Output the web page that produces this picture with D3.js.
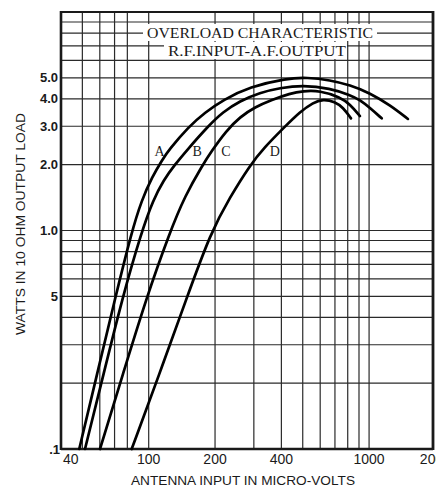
<!DOCTYPE html>
<html><head><meta charset="utf-8">
<script src="https://cdn.jsdelivr.net/npm/d3@7"></script>
<style>html,body{margin:0;padding:0;background:#fff;} svg{display:block}</style>
</head><body>
<script>
// ---- data ----
const xTickValues = [40, 100, 200, 400, 1000, 2000];
const xTickLabels = ["40", "100", "200", "400", "1000", "2000"];
const yTickValues = [0.1, 0.5, 1, 2, 3, 4, 5];
const yTickLabels = [".1", "5", "1.0", "2.0", "3.0", "4.0", "5.0"];
const xGridValues = [50, 60, 70, 80, 100, 200, 300, 400, 500, 600, 700, 800, 900, 1000];
const yGridValues = [0.2, 0.3, 0.4, 0.5, 0.6, 0.7, 0.8, 0.9, 1, 2, 3, 4, 5, 6, 7, 8, 9];
const curveNames = ["A", "B", "C", "D"];
// [antenna input µV, watts]
const curveA = [[48.4,0.1],[58.3,0.220],[70.3,0.486],[83.7,0.987],[93.0,1.38],[103.7,1.76],[115.0,2.10],[123.5,2.34],[151.9,2.99],[180.1,3.47],[217.5,3.96],[287.2,4.55],[422.8,4.97],[523,5.02],[665,4.88],[819,4.63],[1009,4.26],[1244,3.75],[1501,3.24]];
const curveB = [[51.4,0.1],[62.4,0.220],[75.7,0.486],[92.8,0.987],[104.8,1.38],[116.8,1.70],[130.8,1.99],[149.5,2.34],[185.2,2.99],[217.5,3.49],[258.5,3.91],[319.9,4.28],[393.4,4.49],[500,4.63],[665,4.48],[819,4.17],[909,3.96],[1009,3.64],[1141,3.26]];
const curveC = [[60.1,0.1],[76.4,0.220],[97.2,0.486],[124.9,0.987],[146.1,1.44],[175.4,1.99],[193.1,2.31],[224.2,2.85],[259.6,3.31],[303.6,3.67],[361.5,3.96],[437.6,4.24],[501,4.35],[599,4.37],[738,4.08],[819,3.79],[909,3.34]];
const curveD = [[83.7,0.1],[111.4,0.218],[147.6,0.481],[191.7,0.987],[233.8,1.42],[288.1,1.99],[333.5,2.39],[415.3,2.99],[485.8,3.49],[556.5,3.85],[617.8,3.99],[700.2,3.89],[761.3,3.66],[827.7,3.26]];
const curveLabelAt = [[112, 2.3], [166, 2.3], [224, 2.3], [373, 2.3]];
const titleLines = ["OVERLOAD CHARACTERISTIC", "R.F.INPUT-A.F.OUTPUT"];
const xTitle = "ANTENNA INPUT IN MICRO-VOLTS";
const yTitle = "WATTS IN 10 OHM OUTPUT LOAD";

// ---- chart ----
const W = 436, H = 487;
const x = d3.scaleLog().domain([40, 1950]).range([61, 433]);
const y = d3.scaleLog().domain([0.1, 10]).range([449, 12]);
const ink = "#1a1a1a";

const svg = d3.select("body").append("svg").attr("width", W).attr("height", H)
  .style("background", "#fff");

const grid = svg.append("g").attr("stroke", "#2a2a2a").attr("stroke-width", 1.2);
grid.selectAll("line.v").data(xGridValues).join("line").attr("class", "v")
  .attr("x1", d => x(d)).attr("x2", d => x(d))
  .attr("y1", y.range()[0]).attr("y2", y.range()[1]);
grid.selectAll("line.h").data(yGridValues).join("line").attr("class", "h")
  .attr("y1", d => y(d)).attr("y2", d => y(d))
  .attr("x1", x.range()[0]).attr("x2", x.range()[1]);

// frame
const [x0, x1] = x.range(), [y0, y1] = y.range();
svg.append("line").attr("x1", x0).attr("x2", x0).attr("y1", y0 + 1).attr("y2", y1 - 1).attr("stroke", ink).attr("stroke-width", 2.6);
svg.append("line").attr("x1", x1).attr("x2", x1).attr("y1", y0 + 1).attr("y2", y1 - 1).attr("stroke", ink).attr("stroke-width", 2.8);
svg.append("line").attr("x1", x0).attr("x2", x1).attr("y1", y0).attr("y2", y0).attr("stroke", ink).attr("stroke-width", 2.3);
svg.append("line").attr("x1", x0).attr("x2", x1).attr("y1", y1).attr("y2", y1).attr("stroke", ink).attr("stroke-width", 2);

// title with white backing
svg.append("rect").attr("x", 143).attr("y", 24).attr("width", 234).attr("height", 17).attr("fill", "#fff");
svg.append("rect").attr("x", 164).attr("y", 42).attr("width", 183).attr("height", 17).attr("fill", "#fff");
const tf = "'Liberation Serif','DejaVu Serif',serif";
svg.append("text").attr("x", 147).attr("y", 37.5).attr("font-family", tf).attr("font-size", 15)
  .attr("fill", ink).attr("textLength", 226).attr("lengthAdjust", "spacingAndGlyphs").text(titleLines[0]);
svg.append("text").attr("x", 168).attr("y", 56).attr("font-family", tf).attr("font-size", 15)
  .attr("fill", ink).attr("textLength", 178).attr("lengthAdjust", "spacingAndGlyphs").text(titleLines[1]);

// curves
const line = d3.line().x(d => x(d[0])).y(d => y(d[1])).curve(d3.curveBasis);
const curves = [curveA, curveB, curveC, curveD];
svg.append("g").selectAll("path").data(curves).join("path")
  .attr("d", line).attr("fill", "none").attr("stroke", "#000").attr("stroke-width", 2.7)
  .attr("stroke-linecap", "round");

// curve labels
svg.append("g").selectAll("text").data(curveNames).join("text")
  .attr("x", (d, i) => x(curveLabelAt[i][0])).attr("y", (d, i) => y(curveLabelAt[i][1]) + 5)
  .attr("text-anchor", "middle").attr("font-family", tf).attr("font-size", 14)
  .attr("fill", ink).text(d => d);

// tick labels
const sf = "'Liberation Sans','Arimo',Arial,sans-serif";
svg.append("g").selectAll("text").data(xTickValues).join("text")
  .attr("x", (d, i) => i === 0 ? x(d) + 2 : x(d))
  .attr("y", 464)
  .attr("text-anchor", (d, i) => i === 0 ? "start" : "middle")
  .attr("font-family", sf).attr("font-size", 14).attr("fill", ink)
  .text((d, i) => xTickLabels[i]);
svg.append("g").selectAll("text").data(yTickValues).join("text")
  .attr("x", (d, i) => i === 0 ? 60 : 58)
  .attr("y", d => y(d) + 4.5)
  .attr("text-anchor", "end").attr("font-family", sf).attr("font-size", 13)
  .attr("font-weight", "bold").attr("fill", ink)
  .text((d, i) => yTickLabels[i]);

// axis titles
svg.append("text").attr("x", 243).attr("y", 484.5).attr("text-anchor", "middle")
  .attr("font-family", sf).attr("font-size", 13).attr("fill", ink)
  .attr("textLength", 224).attr("lengthAdjust", "spacingAndGlyphs").text(xTitle);
svg.append("text").attr("transform", "translate(25,224) rotate(-90)").attr("text-anchor", "middle")
  .attr("font-family", sf).attr("font-size", 13).attr("fill", ink)
  .attr("textLength", 222).attr("lengthAdjust", "spacingAndGlyphs").text(yTitle);
</script>
</body></html>
